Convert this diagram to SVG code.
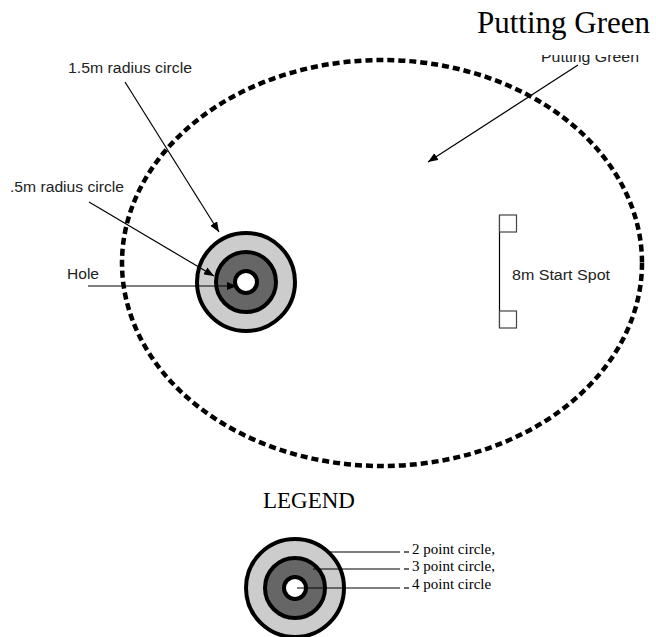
<svg xmlns="http://www.w3.org/2000/svg" width="656" height="637" viewBox="0 0 656 637">
<style>
.lbl{font-family:"Liberation Sans",Arial,sans-serif;font-size:15.5px;fill:#222}
.ser{font-family:"Liberation Serif","Times New Roman",serif;fill:#000}
.ring{stroke:#000;stroke-width:4}
.lead{stroke:#000;stroke-width:1.2;fill:none}
.leg{stroke:#000;stroke-width:1.2}
</style>
<defs>
<marker id="ah" viewBox="0 0 10 8" refX="10" refY="4" markerWidth="10" markerHeight="8" markerUnits="userSpaceOnUse" orient="auto">
<path d="M0,0 L10,4 L0,8 Z" fill="#000"/>
</marker>
<clipPath id="cut"><rect x="520" y="55" width="136" height="20"/></clipPath>
</defs>
<rect width="656" height="637" fill="#fff"/>
<text class="ser" x="477" y="33" font-size="31">Putting Green</text>
<g id="green">
<ellipse cx="382" cy="263" rx="260" ry="203" fill="none" stroke="#000" stroke-width="4.5" stroke-dasharray="7 4"/>
</g>
<g id="green-label">
<text class="lbl" x="541" y="62" textLength="98" lengthAdjust="spacingAndGlyphs" clip-path="url(#cut)">Putting Green</text>
</g>
<g id="hole-target">
<circle class="ring" cx="246" cy="282" r="49" fill="#ccc"/>
<circle class="ring" cx="246" cy="282" r="30" fill="#666"/>
<circle class="ring" cx="246" cy="282" r="11" fill="#fff"/>
</g>
<g id="label-15">
<text class="lbl" x="68" y="73" textLength="124" lengthAdjust="spacingAndGlyphs">1.5m radius circle</text>
</g>
<g id="label-05">
<text class="lbl" x="10" y="192" textLength="114" lengthAdjust="spacingAndGlyphs">.5m radius circle</text>
</g>
<g id="label-hole">
<text class="lbl" x="67" y="279" textLength="32" lengthAdjust="spacingAndGlyphs">Hole</text>
</g>
<g id="start-spot">
<line x1="499.5" y1="215" x2="499.5" y2="328" stroke="#000" stroke-width="1.2"/>
<rect x="499.5" y="215" width="17" height="17" fill="#fff" stroke="#444" stroke-width="1.2"/>
<rect x="499.5" y="311" width="17" height="17" fill="#fff" stroke="#444" stroke-width="1.2"/>
<text class="lbl" x="512" y="280" textLength="98" lengthAdjust="spacingAndGlyphs">8m Start Spot</text>
</g>
<g id="connectors">
<line class="lead" x1="125" y1="82" x2="219" y2="232" marker-end="url(#ah)"/>
<line class="lead" x1="89" y1="202" x2="214" y2="276" marker-end="url(#ah)"/>
<line class="lead" x1="88" y1="286" x2="237" y2="286" marker-end="url(#ah)"/>
<line class="lead" x1="578" y1="65" x2="428" y2="162" marker-end="url(#ah)"/>
</g>
<g id="legend">
<text class="ser" x="263" y="508" font-size="23">LEGEND</text>
<circle class="ring" cx="295" cy="588" r="49" fill="#ccc"/>
<circle class="ring" cx="295" cy="588" r="30" fill="#666"/>
<circle class="ring" cx="295" cy="588" r="11" fill="#fff"/>
<line class="leg" x1="327" y1="552" x2="400" y2="552"/>
<line class="leg" x1="404" y1="552" x2="409" y2="552"/>
<line class="leg" x1="313" y1="569" x2="400" y2="569"/>
<line class="leg" x1="404" y1="569" x2="409" y2="569"/>
<line class="leg" x1="297" y1="588" x2="400" y2="588"/>
<line class="leg" x1="404" y1="588" x2="409" y2="588"/>
<text class="ser" x="412" y="554" font-size="15">2 point circle,</text>
<text class="ser" x="412" y="571" font-size="15">3 point circle,</text>
<text class="ser" x="412" y="589" font-size="15">4 point circle</text>
</g>
</svg>
